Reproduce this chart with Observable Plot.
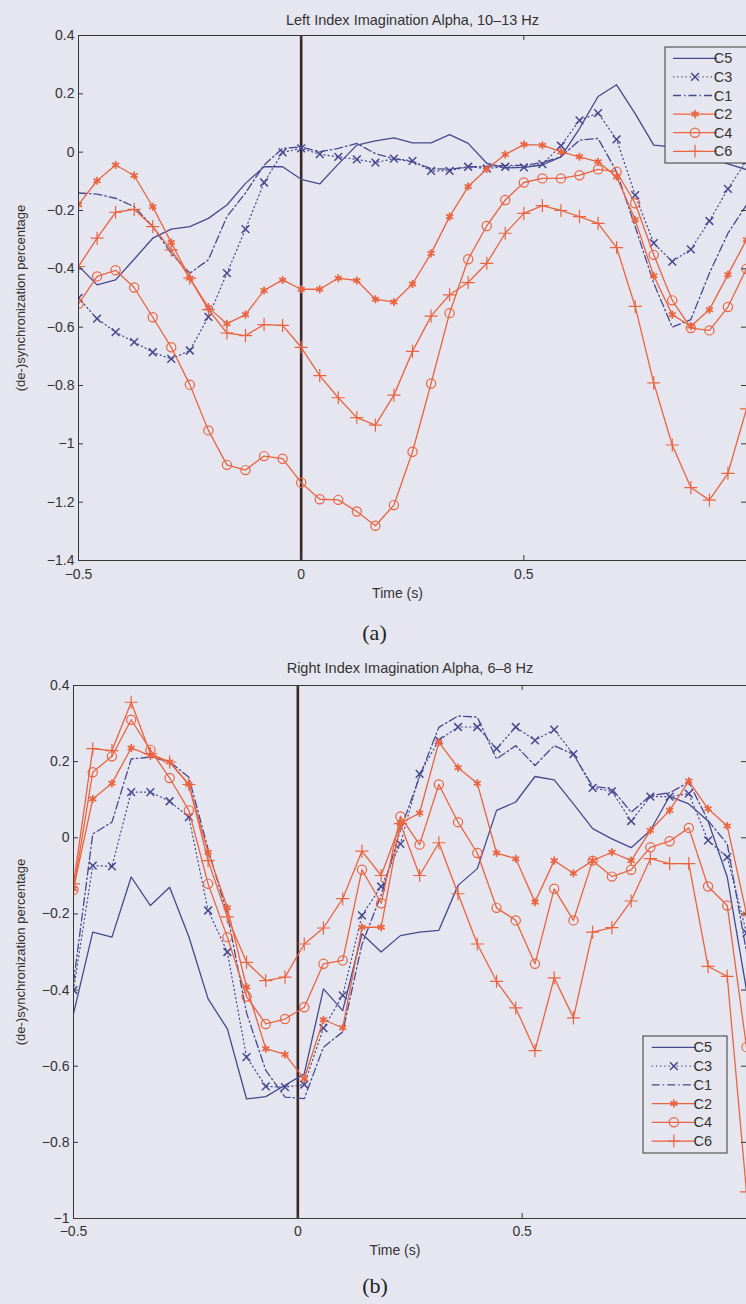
<!DOCTYPE html>
<html><head><meta charset="utf-8">
<script src="https://cdn.jsdelivr.net/npm/d3@7"></script>
<script src="https://cdn.jsdelivr.net/npm/@observablehq/plot@0.6"></script>
<style>
html,body{margin:0;padding:0;background:#e5e6ef;}
#root{position:relative;width:746px;height:1304px;overflow:hidden;}
#root svg{position:absolute;left:0;overflow:visible;}
</style></head><body><div id="root"></div>
<script>
const seriesNames = ["C5","C3","C1","C2","C4","C6"];
const xTicks = [-0.5, 0, 0.5, 1];
const xTickLabels = [-0.5, 0, 0.5];

// Panel (a): Left Index Imagination Alpha, 10–13 Hz
const titleA = "Left Index Imagination Alpha, 10–13 Hz";
const captionA = "(a)";
const yTicksA = [0.4, 0.2, 0, -0.2, -0.4, -0.6, -0.8, -1, -1.2, -1.4];
const timeA = [-0.5,-0.4583,-0.4167,-0.375,-0.3333,-0.2917,-0.25,-0.2083,-0.1667,-0.125,-0.0833,-0.0417,0,0.0417,0.0833,0.125,0.1667,0.2083,0.25,0.2917,0.3333,0.375,0.4167,0.4583,0.5,0.5417,0.5833,0.625,0.6667,0.7083,0.75,0.7917,0.8333,0.875,0.9167,0.9583,1.0];
const c5A = [-0.39,-0.455,-0.438,-0.367,-0.295,-0.264,-0.255,-0.227,-0.181,-0.107,-0.05,-0.05,-0.093,-0.109,-0.041,0.024,0.039,0.049,0.032,0.032,0.06,0.03,-0.038,-0.054,-0.052,-0.044,-0.016,0.081,0.191,0.231,0.132,0.024,0.018,0.0,-0.02,-0.04,-0.06];
const c3A = [-0.5,-0.571,-0.617,-0.651,-0.686,-0.709,-0.68,-0.565,-0.415,-0.264,-0.104,-0.001,0.013,-0.007,-0.016,-0.025,-0.036,-0.022,-0.03,-0.064,-0.064,-0.05,-0.056,-0.05,-0.052,-0.041,0.022,0.109,0.134,0.044,-0.147,-0.312,-0.375,-0.333,-0.236,-0.126,-0.03];
const c1A = [-0.14,-0.144,-0.158,-0.187,-0.255,-0.347,-0.415,-0.369,-0.221,-0.14,-0.044,0.013,0.018,0.001,0.013,0.03,-0.005,-0.022,-0.033,-0.056,-0.059,-0.05,-0.05,-0.045,-0.045,-0.036,-0.016,0.041,0.047,-0.067,-0.255,-0.449,-0.6,-0.574,-0.415,-0.278,-0.181];
const c2A = [-0.18,-0.098,-0.044,-0.08,-0.187,-0.31,-0.432,-0.533,-0.588,-0.557,-0.474,-0.438,-0.47,-0.47,-0.432,-0.44,-0.504,-0.514,-0.452,-0.347,-0.221,-0.118,-0.058,-0.008,0.026,0.024,0.001,-0.016,-0.033,-0.084,-0.232,-0.424,-0.557,-0.597,-0.54,-0.42,-0.3];
const c4A = [-0.52,-0.426,-0.405,-0.464,-0.566,-0.669,-0.797,-0.954,-1.072,-1.09,-1.042,-1.051,-1.133,-1.19,-1.192,-1.232,-1.281,-1.21,-1.027,-0.793,-0.552,-0.367,-0.253,-0.164,-0.104,-0.09,-0.09,-0.079,-0.059,-0.067,-0.175,-0.352,-0.508,-0.603,-0.611,-0.531,-0.4];
const c6A = [-0.392,-0.295,-0.206,-0.196,-0.255,-0.335,-0.432,-0.54,-0.62,-0.629,-0.591,-0.594,-0.669,-0.766,-0.842,-0.91,-0.936,-0.833,-0.683,-0.562,-0.489,-0.447,-0.381,-0.278,-0.21,-0.183,-0.2,-0.221,-0.244,-0.327,-0.529,-0.791,-1.004,-1.15,-1.193,-1.101,-0.88];

// Panel (b): Right Index Imagination Alpha, 6–8 Hz
const titleB = "Right Index Imagination Alpha, 6–8 Hz";
const captionB = "(b)";
const yTicksB = [0.4, 0.2, 0, -0.2, -0.4, -0.6, -0.8, -1];
const timeB = [-0.5,-0.4571,-0.4143,-0.3714,-0.3286,-0.2857,-0.2429,-0.2,-0.1571,-0.1143,-0.0714,-0.0286,0.0143,0.0571,0.1,0.1429,0.1857,0.2286,0.2714,0.3143,0.3571,0.4,0.4429,0.4857,0.5286,0.5714,0.6143,0.6571,0.7,0.7429,0.7857,0.8286,0.8714,0.9143,0.9571,1.0];
const c5B = [-0.462,-0.248,-0.261,-0.103,-0.178,-0.13,-0.26,-0.423,-0.502,-0.686,-0.68,-0.65,-0.62,-0.397,-0.454,-0.252,-0.3,-0.257,-0.248,-0.243,-0.125,-0.081,0.072,0.094,0.161,0.152,0.089,0.024,-0.003,-0.026,0.019,0.109,0.089,0.044,-0.103,-0.4];
const c3B = [-0.4,-0.073,-0.075,0.12,0.12,0.096,0.054,-0.191,-0.3,-0.576,-0.653,-0.655,-0.648,-0.5,-0.414,-0.204,-0.128,-0.016,0.168,0.256,0.291,0.291,0.234,0.291,0.256,0.284,0.22,0.131,0.122,0.044,0.108,0.108,0.116,-0.007,-0.051,-0.25];
const c1B = [-0.38,0.01,0.041,0.207,0.212,0.2,0.159,-0.03,-0.2,-0.46,-0.611,-0.681,-0.685,-0.55,-0.51,-0.28,-0.15,0.02,0.16,0.29,0.32,0.317,0.207,0.242,0.19,0.242,0.219,0.135,0.129,0.067,0.111,0.118,0.146,0.045,-0.016,-0.3];
const c2B = [-0.134,0.102,0.143,0.236,0.216,0.199,0.14,-0.038,-0.184,-0.392,-0.554,-0.569,-0.633,-0.478,-0.499,-0.235,-0.235,0.038,0.065,0.251,0.184,0.143,-0.04,-0.055,-0.169,-0.06,-0.093,-0.06,-0.038,-0.06,0.019,0.072,0.149,0.076,0.031,-0.2];
const c4B = [-0.137,0.172,0.214,0.31,0.231,0.157,0.072,-0.121,-0.261,-0.417,-0.489,-0.476,-0.445,-0.331,-0.322,-0.084,-0.172,0.056,-0.018,0.14,0.041,-0.04,-0.184,-0.217,-0.331,-0.134,-0.217,-0.06,-0.102,-0.084,-0.025,-0.009,0.026,-0.128,-0.178,-0.55];
const c6B = [-0.121,0.234,0.229,0.356,0.221,0.199,0.14,-0.06,-0.208,-0.327,-0.375,-0.366,-0.279,-0.237,-0.16,-0.035,-0.099,0.037,-0.099,-0.013,-0.147,-0.279,-0.377,-0.447,-0.559,-0.368,-0.473,-0.248,-0.236,-0.166,-0.055,-0.068,-0.068,-0.338,-0.364,-0.93];

const yLabel = "(de-)synchronization percentage";
const xLabel = "Time (s)";

const BG = "#e5e6ef", BLUE = "#48488f", RED = "#eb6440", INK = "#383838";
const styles = {
  C5: {stroke: BLUE, dash: null, symbol: null, width: 1.3},
  C3: {stroke: BLUE, dash: "1.2,3", symbol: "times", r: 3.6, sw: 1.5, width: 1.2},
  C1: {stroke: BLUE, dash: "8,3,1.5,3", symbol: null, width: 1.3},
  C2: {stroke: RED, dash: null, symbol: "asterisk", r: 3.8, sw: 1.7, width: 1.3},
  C4: {stroke: RED, dash: null, symbol: "circle", r: 4.6, sw: 1.2, width: 1.3},
  C6: {stroke: RED, dash: null, symbol: "plus", r: 4.3, sw: 1.2, width: 1.3}
};
const d3sym = {times: d3.symbolTimes || d3.symbolX, asterisk: d3.symbolAsterisk, circle: d3.symbolCircle, plus: d3.symbolPlus};
const fmt = d => d3.format("~g")(d);

function makePanel(o) {
  const rows = [];
  o.series.forEach((vals, i) => vals.forEach((v, k) => rows.push({name: seriesNames[i], t: o.times[k], v})));
  const W = o.width - o.marginLeft - o.marginRight;
  const H = o.height - o.marginTop - o.marginBottom;
  const marks = [Plot.ruleX([0], {stroke: "#3b2626", strokeWidth: 2.6})];
  for (const name of seriesNames) {
    const st = styles[name];
    const data = rows.filter(r => r.name === name);
    marks.push(Plot.line(data, {x: "t", y: "v", stroke: st.stroke, strokeWidth: st.width, strokeDasharray: st.dash, clip: true}));
    if (st.symbol) marks.push(Plot.dot(data, {x: "t", y: "v", symbol: st.symbol, r: st.r, stroke: st.stroke, strokeWidth: st.sw, fill: "none", clip: true}));
  }
  marks.push(
    Plot.frame({stroke: INK, strokeWidth: 1}),
    Plot.tickY(o.yTicks, {y: d => d, insetRight: W - 5, stroke: INK}),
    Plot.tickY(o.yTicks, {y: d => d, insetLeft: W - 5, stroke: INK}),
    Plot.tickX(xTicks, {x: d => d, insetTop: H - 5, stroke: INK}),
    Plot.tickX(xTicks, {x: d => d, insetBottom: H - 5, stroke: INK}),
    Plot.axisY(o.yTicks, {tickSize: 0, tickPadding: 4, tickFormat: fmt, fontSize: 14, fill: "#333", label: null}),
    Plot.axisX(xTickLabels, {tickSize: 0, tickPadding: o.xPad, tickFormat: fmt, fontSize: 14, fill: "#333", label: null}),
    Plot.text([o.title], {text: d => d, frameAnchor: "top", dy: o.titleDy, lineAnchor: "middle", fontSize: 14.5, fill: "#333"}),
    Plot.text([xLabel], {text: d => d, frameAnchor: "bottom", dy: o.xLabelDy, dx: o.xLabelDx, lineAnchor: "middle", fontSize: 14, fill: "#333"}),
    Plot.text([yLabel], {text: d => d, frameAnchor: "left", rotate: -90, dx: 20 - o.marginLeft, lineAnchor: "middle", textAnchor: "middle", fontSize: 13, fill: "#333"}),
    Plot.text([o.caption], {text: d => d, frameAnchor: "bottom", dy: o.capDy, dx: o.capDx, lineAnchor: "middle", fontSize: 22, fontFamily: "Liberation Serif, Times New Roman, serif", fill: "#222"})
  );
  const svg = Plot.plot({
    width: o.width, height: o.height,
    marginTop: o.marginTop, marginBottom: o.marginBottom, marginLeft: o.marginLeft, marginRight: o.marginRight,
    x: {domain: [-0.5, 1.0], axis: null, label: null},
    y: {domain: o.yDomain, axis: null, label: null},
    style: {fontFamily: "Liberation Sans, Arial, sans-serif", fontSize: "13px", background: "transparent", color: "#333", overflow: "visible"},
    marks
  });
  // legend
  const b = o.legend;
  const g = d3.select(svg).append("g");
  g.append("rect").attr("x", b.x).attr("y", b.y).attr("width", b.w).attr("height", b.h)
    .attr("fill", BG).attr("stroke", INK).attr("stroke-width", 1);
  seriesNames.forEach((name, i) => {
    const st = styles[name];
    const y = b.y + b.row0 + i * b.dy;
    g.append("line").attr("x1", b.x + b.l1).attr("x2", b.x + b.l2).attr("y1", y).attr("y2", y)
      .attr("stroke", st.stroke).attr("stroke-width", st.width).attr("stroke-dasharray", st.dash);
    if (st.symbol) g.append("path")
      .attr("d", d3.symbol(d3sym[st.symbol], Math.PI * st.r * st.r)())
      .attr("transform", `translate(${b.x + (b.l1 + b.l2) / 2},${y})`)
      .attr("fill", "none").attr("stroke", st.stroke).attr("stroke-width", st.sw);
    g.append("text").attr("x", b.x + b.tx).attr("y", y).attr("dy", "0.35em")
      .attr("font-size", 14.5).attr("fill", "#333").text(name);
  });
  svg.style.top = o.top + "px";
  return svg;
}

const root = document.getElementById("root");
root.append(makePanel({
  top: 0, width: 746, height: 650, marginTop: 35, marginBottom: 90, marginLeft: 78, marginRight: 0,
  yDomain: [-1.4, 0.4], yTicks: yTicksA, times: timeA,
  series: [c5A, c3A, c1A, c2A, c4A, c6A],
  title: titleA, caption: captionA, titleDy: -15, xPad: 9, xLabelDy: 33, xLabelDx: -15, capDy: 72, capDx: -38,
  legend: {x: 665, y: 47, w: 100, h: 116, row0: 11.3, dy: 18.6, l1: 8, l2: 52, tx: 58}
}));
root.append(makePanel({
  top: 650, width: 746, height: 654, marginTop: 35, marginBottom: 86, marginLeft: 73, marginRight: 0,
  yDomain: [-1, 0.4], yTicks: yTicksB, times: timeB,
  series: [c5B, c3B, c1B, c2B, c4B, c6B],
  title: titleB, caption: captionB, titleDy: -17, xPad: 8, xLabelDy: 32, xLabelDx: -15, capDy: 67, capDx: -35,
  legend: {x: 643, y: 386, w: 84, h: 117, row0: 11.3, dy: 18.75, l1: 8.7, l2: 53, tx: 59.7}
}));
</script></body></html>
